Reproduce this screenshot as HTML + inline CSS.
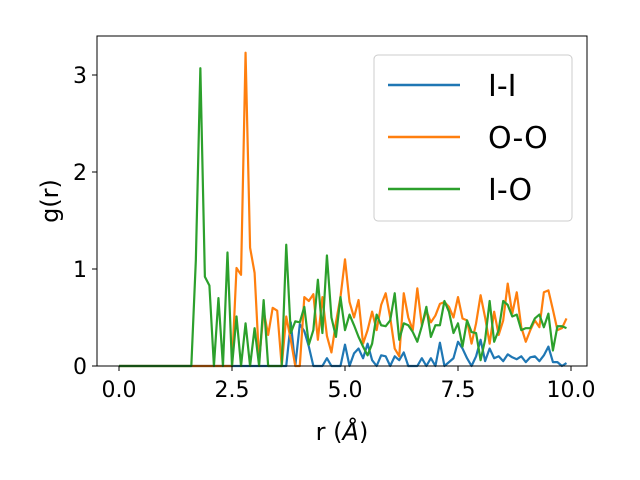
<!DOCTYPE html>
<html><head><meta charset="utf-8"><style>
html,body{margin:0;padding:0;background:#fff}
svg{display:block;font-family:"DejaVu Sans","Liberation Sans",sans-serif}
</style></head><body>
<svg id="chart" width="640" height="480">
<g id="plot"></g>
</svg>
<script>
const rValues = Array.from({length:100},(_,i)=>+(i*0.1).toFixed(1));
const xTicks = [0.0,2.5,5.0,7.5,10.0];
const xTickLabels = ["0.0","2.5","5.0","7.5","10.0"];
const yTicks = [0,1,2,3];
const seriesNames = ["I-I","O-O","I-O"];
const seriesColors = ["#1f77b4","#ff7f0e","#2ca02c"];
const ii = [0,0,0,0,0,0,0,0,0,0,0,0,0,0,0,0,0,0,0,0,0,0,0,0,0,0,0,0,0,0,0,0,0,0,0,0,0,0,0.45,0,0.43,0.36,0.2,0,0,0,0.08,0,0,0,
0.22,0,0.13,0.18,0.08,0.23,0.06,0,0.11,0.1,0,0.1,0.06,0.14,0,0,0,0.08,0,0.08,0,0.24,0,0.04,0.08,0.25,0.18,0.08,0,0.1,0.27,0.05,0.18,0.08,0.1,0.05,0.12,0.09,0.07,0.1,0.04,0.09,0.1,0.05,0.11,0.2,0.04,0.04,0,0.03];
const oo = [0,0,0,0,0,0,0,0,0,0,0,0,0,0,0,0,0,0,0,0,0,0,0,0,0,0,1.01,0.94,3.23,1.22,0.96,0.05,0.57,0.32,0.6,0.57,0,0.51,0.27,0,0,0.71,0.67,0.74,0.27,0.71,0.31,0.14,0.45,0.71,
1.1,0.66,0.5,0.68,0.23,0.37,0.56,0.37,0.63,0.75,0.5,0.18,0.1,0.75,0.5,0.37,0.8,0.42,0.57,0.45,0.52,0.64,0.66,0.61,0.5,0.71,0.49,0.47,0.23,0.44,0.73,0.5,0.23,0.56,0.32,0.47,0.85,0.54,0.76,0.4,0.25,0.37,0.47,0.4,0.76,0.78,0.58,0.37,0.39,0.49];
const io = [0,0,0,0,0,0,0,0,0,0,0,0,0,0,0,0,0,1.09,3.07,0.92,0.83,0,0.7,0,1.17,0,0.51,0,0.44,0,0.39,0,0.68,0,0,0,0,1.25,0.34,0.46,0.45,0.61,0.22,0.37,0.89,0.34,1.14,0.5,0.3,0.71,
0.37,0.53,0.42,0.3,0.2,0.11,0.23,0.53,0.42,0.41,0.47,0.75,0.27,0.44,0.42,0.35,0.25,0.41,0.61,0.3,0.42,0.42,0.67,0.56,0.34,0.44,0.2,0.47,0.35,0.34,0.06,0.27,0.67,0.25,0.37,0.67,0.63,0.51,0.53,0.37,0.39,0.39,0.49,0.53,0.4,0.54,0.16,0.41,0.41,0.39];
const allSeries=[ii,oo,io];
const X0=97,X1=587,Y0=36,Y1=366;
const xs=v=>119+v*45.2;
const ys=v=>366-v*97;
const NS="http://www.w3.org/2000/svg";
const svg=document.getElementById('chart');
function mk(tag,attrs,parent){const e=document.createElementNS(NS,tag);for(const k in attrs)e.setAttribute(k,attrs[k]);(parent||svg).appendChild(e);return e;}
const plot=document.getElementById('plot');
allSeries.forEach((s,k)=>{
  const p=mk('polyline',{points:s.map((v,i)=>xs(rValues[i])+','+ys(v)).join(' '),fill:'none',stroke:seriesColors[k],'stroke-width':2.2,'stroke-linejoin':'round'},plot);
  
  
});
const frame=mk('rect',{x:X0,y:Y0,width:X1-X0,height:Y1-Y0,fill:'none',stroke:'#000','stroke-width':1});


xTicks.forEach((t,i)=>{
  mk('line',{x1:xs(t),x2:xs(t),y1:Y1,y2:Y1+5,stroke:'#000'});
  const tx=mk('text',{x:xs(t),y:Y1+31,'text-anchor':'middle','font-size':22});
  tx.textContent=xTickLabels[i];
  
  
});
yTicks.forEach(t=>{
  mk('line',{x1:X0-5,x2:X0,y1:ys(t),y2:ys(t),stroke:'#000'});
  const tx=mk('text',{x:X0-10,y:ys(t)+8,'text-anchor':'end','font-size':22});
  tx.textContent=String(t);
  
  
});
const xl=mk('text',{x:342,y:440,'text-anchor':'middle','font-size':24});
xl.innerHTML='r (<tspan font-style="italic">Å</tspan>)';


const yl=mk('text',{x:58,y:201,'text-anchor':'middle','font-size':24,transform:'rotate(-90 58 201)'});
yl.textContent='g(r)';


const lg=mk('g',{});


mk('rect',{x:374,y:55,width:198,height:166,rx:4,fill:'#fff',stroke:'#ccc','stroke-width':1},lg);
seriesNames.forEach((n,k)=>{
  const y=85+k*52;
  const g=mk('g',{},lg);
  
  
  mk('line',{x1:388,x2:460,y1:y,y2:y,stroke:seriesColors[k],'stroke-width':2.5},g);
  const t=mk('text',{x:488,y:y+11,'font-size':30},g);
  t.textContent=n;
});
</script>
</body></html>
